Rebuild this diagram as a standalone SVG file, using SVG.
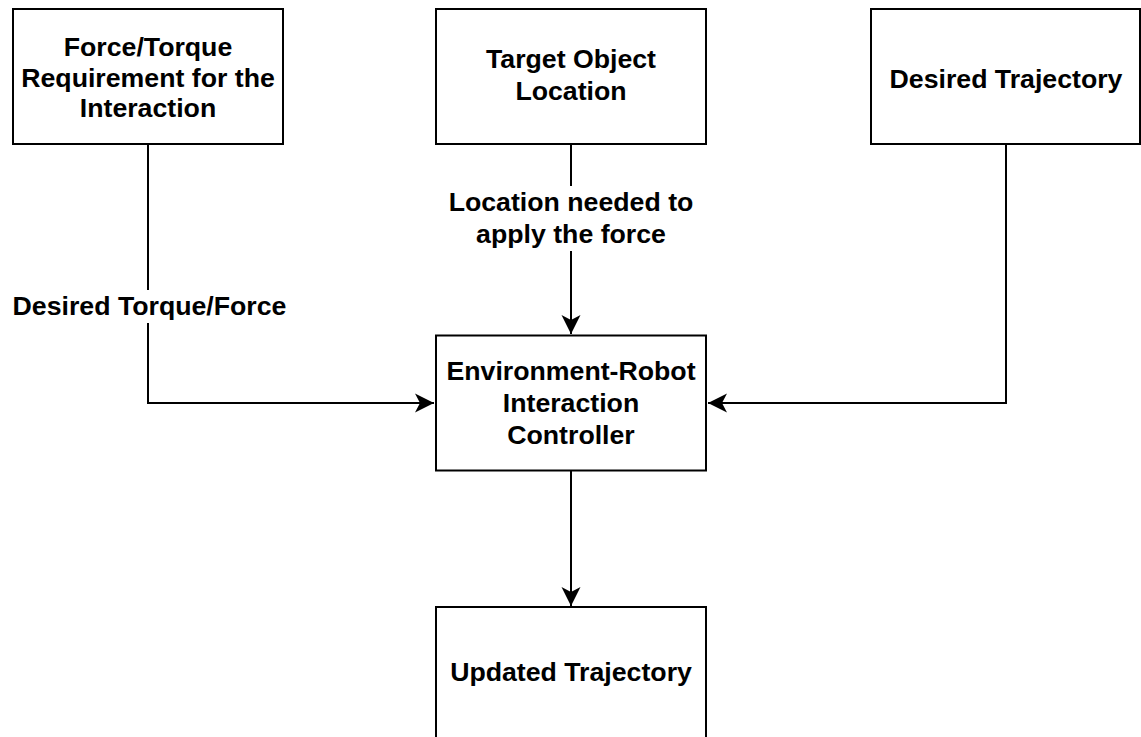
<svg xmlns="http://www.w3.org/2000/svg" width="1141" height="737" viewBox="0 0 1141 737">
<style>
.box{fill:#fff;stroke:#000;stroke-width:2}
.t{font-family:"Liberation Sans",Arial,Helvetica,sans-serif;font-weight:bold;font-size:26.7px;fill:#000;text-anchor:middle}
.ln{fill:none;stroke:#000;stroke-width:2}
.bg{fill:#fff}
</style>
<defs>
<marker id="arr" markerUnits="userSpaceOnUse" markerWidth="24" markerHeight="24" viewBox="-20 -12 24 24" refX="0" refY="0" orient="auto">
<path d="M0,0 L-19,-9.5 L-14,0 L-19,9.5 Z" fill="#000"/>
</marker>
</defs>
<rect width="1141" height="737" fill="#fff"/>
<g id="connectors">
<path class="ln" d="M148,144 V403 H434" marker-end="url(#arr)"/>
<path class="ln" d="M571,144 V334" marker-end="url(#arr)"/>
<path class="ln" d="M1006,144 V403 H708" marker-end="url(#arr)"/>
<path class="ln" d="M571,471 V606" marker-end="url(#arr)"/>
<rect class="bg" x="8" y="290" width="284" height="33"/>
<text class="t" x="149.5" y="315">Desired Torque/Force</text>
<rect class="bg" x="436" y="186" width="270" height="65"/>
<text class="t" x="571" y="211">Location needed to</text>
<text class="t" x="571" y="243">apply the force</text>
</g>
<g id="node-force">
<rect class="box" x="13" y="9" width="270" height="135"/>
<text class="t" x="148" y="56">Force/Torque</text>
<text class="t" x="148" y="86.5">Requirement for the</text>
<text class="t" x="148" y="117">Interaction</text>
</g>
<g id="node-target">
<rect class="box" x="436" y="9" width="270" height="135"/>
<text class="t" x="571" y="68">Target Object</text>
<text class="t" x="571" y="100">Location</text>
</g>
<g id="node-desired">
<rect class="box" x="871" y="9" width="269" height="135"/>
<text class="t" x="1006" y="88">Desired Trajectory</text>
</g>
<g id="node-controller">
<rect class="box" x="436" y="335.5" width="270" height="135"/>
<text class="t" x="571" y="379.5">Environment-Robot</text>
<text class="t" x="571" y="411.5">Interaction</text>
<text class="t" x="571" y="443.5">Controller</text>
</g>
<g id="node-updated">
<rect class="box" x="436" y="607" width="270" height="140"/>
<text class="t" x="571" y="681">Updated Trajectory</text>
</g>
</svg>
